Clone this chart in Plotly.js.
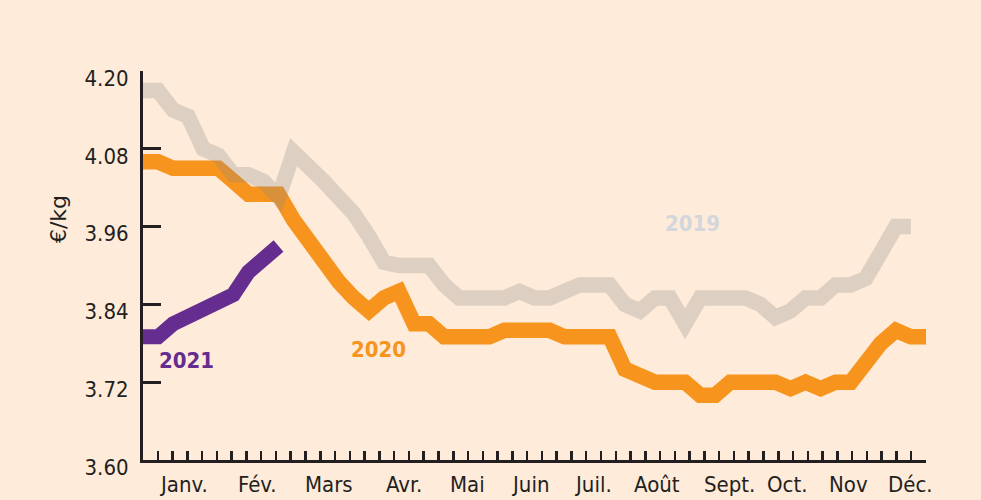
<!DOCTYPE html>
<html>
<head>
<meta charset="utf-8">
<script src="https://cdn.plot.ly/plotly-3.0.1.min.js"></script>
<style>html,body{margin:0;padding:0;background:#FEEBD9;}#chart{width:981px;height:500px;}</style>
</head>
<body>
<div id="chart"></div>
<script>
// Weekly prices (€/kg), one value per week starting at the first week of the year
const prices2019 = [4.17,4.17,4.14,4.13,4.08,4.07,4.04,4.04,4.03,4.005,4.075,4.055,4.03,4.005,3.98,3.945,3.905,3.90,3.90,3.90,3.87,3.85,3.85,3.85,3.85,3.86,3.85,3.85,3.86,3.87,3.87,3.87,3.84,3.83,3.85,3.85,3.81,3.85,3.85,3.85,3.85,3.84,3.82,3.83,3.85,3.85,3.87,3.87,3.88,3.92,3.96,3.96];
const prices2020 = [4.06,4.06,4.05,4.05,4.05,4.05,4.03,4.01,4.01,4.01,3.97,3.935,3.905,3.875,3.85,3.83,3.85,3.86,3.81,3.81,3.79,3.79,3.79,3.79,3.80,3.80,3.80,3.80,3.79,3.79,3.79,3.79,3.74,3.73,3.72,3.72,3.72,3.70,3.70,3.72,3.72,3.72,3.72,3.71,3.72,3.71,3.72,3.72,3.75,3.78,3.80,3.79,3.79];
const prices2021 = [3.79,3.79,3.81,3.82,3.83,3.84,3.855,3.89,3.91,3.93];

const monthLabels = ["Janv.","Fév.","Mars","Avr.","Mai","Juin","Juil.","Août","Sept.","Oct.","Nov","Déc."];
const monthPos = [2.72,7.63,12.34,17.31,21.55,25.67,29.91,34.16,38.94,42.78,46.88,50.94];

const seriesNames = ["2019","2020","2021"];
const labelPos = {"2019":[36.48,3.965],"2020":[15.62,3.770],"2021":[2.92,3.753]};

const FONT = '"DejaVu Sans Condensed", "DejaVu Sans", sans-serif';
const INK = '#231F20';
const idx = a => a.map((_, i) => i);

const traces = [
  {name:"2020", x: idx(prices2020), y: prices2020, mode:'lines', line:{color:'#F7941D', width:15.5}, hoverinfo:'skip'},
  {name:"2019", x: idx(prices2019), y: prices2019, mode:'lines', line:{color:'rgba(133,133,133,0.275)', width:15.5}, hoverinfo:'skip'},
  {name:"2021", x: idx(prices2021), y: prices2021, mode:'lines', line:{color:'#662D91', width:15}, hoverinfo:'skip'}
];

const labelColors = {"2019":'#D3D7DC',"2020":'#F7941D',"2021":'#662D91'};
const annotations = [];
seriesNames.forEach(n => {
  annotations.push({x: labelPos[n][0], y: labelPos[n][1], xref:'x', yref:'y', text:n, showarrow:false,
    xanchor:'center', yanchor:'middle', font:{family:FONT, size:22, color:labelColors[n], weight:'bold'}});
});
monthLabels.forEach((m, i) => {
  annotations.push({x: monthPos[i], y: 0, xref:'x', yref:'paper', yshift:-24, text:m, showarrow:false,
    xanchor:'center', yanchor:'middle', font:{family:FONT, size:22, color:INK}});
});
annotations.push({x:-0.107, y:0.62, xref:'paper', yref:'paper', text:'€/kg', textangle:-90, showarrow:false,
  xanchor:'center', yanchor:'middle', font:{family:'"DejaVu Sans", sans-serif', size:22, color:INK}});

const layout = {
  width:981, height:500,
  margin:{l:143, r:55, t:71, b:40, pad:0},
  paper_bgcolor:'#FEEBD9', plot_bgcolor:'#FEEBD9',
  showlegend:false,
  xaxis:{range:[0,52], showgrid:false, zeroline:false, showline:true, linecolor:INK, linewidth:3,
    ticks:'inside', ticklen:9, tickwidth:2.5, tickcolor:INK, tickmode:'linear', tick0:52/53, dtick:52/53,
    showticklabels:false, fixedrange:true},
  yaxis:{range:[3.6,4.2], showgrid:false, zeroline:false, showline:true, linecolor:INK, linewidth:3,
    ticks:'inside', ticklen:18, tickwidth:3, tickcolor:INK, tickmode:'linear', tick0:3.6, dtick:0.12,
    tickformat:'.2f', tickfont:{family:FONT, size:22, color:INK}, ticklabelstandoff:7, ticklabelshift:7, fixedrange:true},
  annotations: annotations
};

Plotly.newPlot('chart', traces, layout, {staticPlot:true, displayModeBar:false});
</script>
</body>
</html>
